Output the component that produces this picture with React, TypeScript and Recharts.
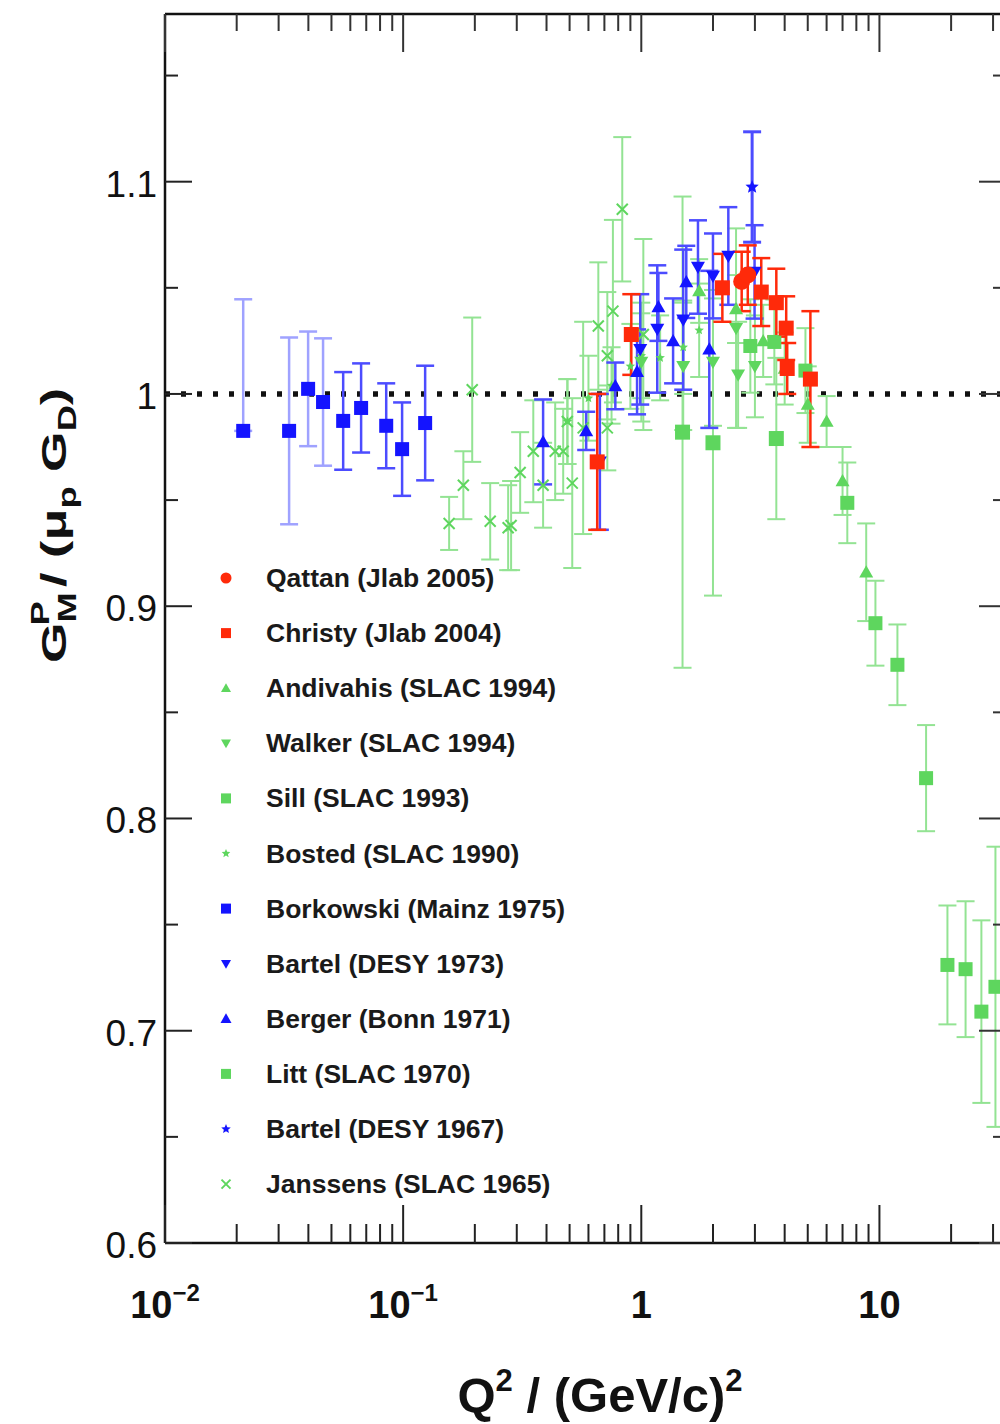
import React from 'react';
import { ScatterChart, Scatter, XAxis, YAxis, ErrorBar, ReferenceLine, Legend } from 'recharts';

// [Q2, GM/(mu_p GD), error]  (error may be [low, high])
type Row = [number, number, number | [number, number]];

const qattan: Row[] = [[2.64, 1.053, 0.014], [2.8, 1.056, 0.014]];
const christy: Row[] = [
  [0.653, 0.968, 0.032], [0.908, 1.028, 0.019], [2.19, 1.05, 0.016], [3.19, 1.048, 0.016],
  [3.69, 1.043, 0.016], [4.06, 1.031, 0.015], [4.1, 1.012, 0.012], [5.13, 1.007, 0.032],
];
const andivahis: Row[] = [
  [1.75, 1.0485, 0.015], [2.5, 1.04, 0.016], [3.25, 1.025, 0.017], [4.0, 1.012, 0.017],
  [5.0, 0.995, 0.018], [6.0, 0.987, 0.012], [7.0, 0.959, 0.016], [8.8, 0.916, 0.023],
];
const walker: Row[] = [
  [1.0, 1.015, 0.028], [1.5, 1.013, 0.03], [2.0, 1.015, 0.03], [2.5, 1.031, 0.047],
  [2.55, 1.009, 0.025], [3.0, 1.013, 0.024],
];
const sill: Row[] = [
  [2.87, 1.0226, 0.022], [3.62, 1.0245, 0.02], [4.89, 1.011, 0.02], [7.33, 0.9487, 0.019],
  [9.62, 0.892, 0.02], [11.9, 0.8724, 0.019], [15.7, 0.819, 0.025], [19.3, 0.731, 0.028],
  [23.0, 0.729, 0.032], [26.8, 0.709, 0.043], [30.7, 0.7207, 0.066],
];
const bosted: Row[] = [
  [0.49, 0.987, 0.02], [0.6, 0.998, 0.02], [0.75, 1.004, 0.018], [0.9, 1.013, 0.02],
  [1.0, 1.018, 0.02], [1.2, 1.017, 0.02], [1.5, 1.022, 0.022], [1.75, 1.03, 0.022],
];
// early Borkowski points have faint error bars in the original
const borkowskiFaint: Row[] = [
  [0.0213, 0.9826, [0, 0.062]], [0.0332, 0.9826, 0.044], [0.0399, 1.0024, 0.027],
  [0.0461, 0.9962, 0.03],
];
const borkowski: Row[] = [
  [0.056, 0.9873, 0.023], [0.0666, 0.9934, 0.021],
  [0.0849, 0.985, 0.02], [0.099, 0.974, 0.022], [0.1237, 0.9863, 0.027],
];
const bartel73: Row[] = [
  [0.67, 0.968, 0.032], [0.99, 1.021, 0.026], [1.167, 1.0306, 0.03], [1.5, 1.035, 0.033],
  [1.73, 1.0598, 0.022], [2.0, 1.0556, 0.02], [2.32, 1.065, 0.023], [2.99, 1.0575, 0.022],
];
const berger: Row[] = [
  [0.387, 0.9774, 0.02], [0.587, 0.9826, 0.009], [0.778, 1.0038, 0.011], [0.96, 1.0104, 0.02],
  [1.18, 1.041, 0.016], [1.36, 1.025, 0.02], [1.545, 1.0528, 0.017], [1.93, 1.021, 0.037],
];
const litt: Row[] = [[1.49, 0.982, 0.111], [2.0, 0.977, 0.072], [3.69, 0.979, 0.038]];
const bartel67: Row[] = [[2.92, 1.0975, 0.026]];
const janssens: Row[] = [
  [0.156, 0.939, 0.0125], [0.179, 0.957, 0.016], [0.195, 1.002, 0.034], [0.232, 0.94, 0.018],
  [0.276, 0.937, 0.02], [0.284, 0.938, 0.021], [0.31, 0.963, 0.019], [0.352, 0.973, 0.024],
  [0.387, 0.957, 0.02], [0.435, 0.973, 0.023], [0.47, 0.973, 0.02], [0.489, 0.987, 0.02],
  [0.513, 0.958, 0.04], [0.57, 0.984, 0.05], [0.66, 1.032, 0.03], [0.72, 1.018, 0.03],
  [0.72, 0.984, 0.02], [0.76, 1.039, 0.043], [0.832, 1.087, 0.034], [1.02, 1.028, 0.045],
];

const xTicks = [
  0.01, 0.02, 0.03, 0.04, 0.05, 0.06, 0.07, 0.08, 0.09,
  0.1, 0.2, 0.3, 0.4, 0.5, 0.6, 0.7, 0.8, 0.9,
  1, 2, 3, 4, 5, 6, 7, 8, 9,
  10, 20, 30,
];
const xLabels: Record<string, [string, string]> = {
  '0.01': ['10', '\u22122'], '0.1': ['10', '\u22121'], '1': ['1', ''], '10': ['10', ''],
};
const yTicks = [0.6, 0.65, 0.7, 0.75, 0.8, 0.85, 0.9, 0.95, 1, 1.05, 1.1, 1.15];
const yLabels: Record<string, string> = {
  '0.6': '0.6', '0.7': '0.7', '0.8': '0.8', '0.9': '0.9', '1': '1', '1.1': '1.1',
};

const RED = '#ff2a0a';
const BLUE = '#1414ff';
const GREEN = '#5ed65e';
const GREEN_BAR = '#93e393';
const BLUE_BAR = '#4c4cff';
const BLUE_FAINT = '#9fa2ff';
const FONT = '"Liberation Sans", Arial, Helvetica, sans-serif';

type Series = {
  name: string; rows: Row[]; kind: string; color: string; bar: string;
  size: number; legendSize: number; z: number; barWidth: number; legend?: boolean;
};

const series: Series[] = [
  { name: 'Qattan (Jlab 2005)', rows: qattan, kind: 'circle', color: RED, bar: RED, size: 17, legendSize: 11, z: 12, barWidth: 2.5 },
  { name: 'Christy (Jlab 2004)', rows: christy, kind: 'square', color: RED, bar: RED, size: 15, legendSize: 10, z: 11, barWidth: 2.5 },
  { name: 'Andivahis (SLAC 1994)', rows: andivahis, kind: 'up', color: GREEN, bar: GREEN_BAR, size: 14, legendSize: 10, z: 6, barWidth: 2 },
  { name: 'Walker (SLAC 1994)', rows: walker, kind: 'down', color: GREEN, bar: GREEN_BAR, size: 14, legendSize: 10, z: 5, barWidth: 2 },
  { name: 'Sill (SLAC 1993)', rows: sill, kind: 'square', color: GREEN, bar: GREEN_BAR, size: 14, legendSize: 10, z: 4, barWidth: 2 },
  { name: 'Bosted (SLAC 1990)', rows: bosted, kind: 'star', color: GREEN, bar: GREEN_BAR, size: 10, legendSize: 9, z: 2, barWidth: 2 },
  { name: 'Borkowski (Mainz 1975)', rows: borkowski, kind: 'square', color: BLUE, bar: BLUE_BAR, size: 14, legendSize: 10, z: 7.5, barWidth: 2.5 },
  { name: 'Borkowski faint', rows: borkowskiFaint, kind: 'square', color: BLUE, bar: BLUE_FAINT, size: 14, legendSize: 10, z: 7, barWidth: 2.5, legend: false },
  { name: 'Bartel (DESY 1973)', rows: bartel73, kind: 'down', color: BLUE, bar: BLUE_BAR, size: 14, legendSize: 10, z: 9, barWidth: 2.5 },
  { name: 'Berger (Bonn 1971)', rows: berger, kind: 'up', color: BLUE, bar: BLUE_BAR, size: 14, legendSize: 11, z: 8, barWidth: 2.5 },
  { name: 'Litt (SLAC 1970)', rows: litt, kind: 'square', color: GREEN, bar: GREEN_BAR, size: 15, legendSize: 10, z: 3, barWidth: 2 },
  { name: 'Bartel (DESY 1967)', rows: bartel67, kind: 'star', color: BLUE, bar: BLUE_BAR, size: 14, legendSize: 10, z: 10, barWidth: 3 },
  { name: 'Janssens (SLAC 1965)', rows: janssens, kind: 'x', color: GREEN, bar: GREEN_BAR, size: 11, legendSize: 9, z: 1, barWidth: 2 },
];

function drawMarker(kind: string, cx: number, cy: number, s: number, c: string) {
  const h = s / 2;
  switch (kind) {
    case 'circle':
      return <circle cx={cx} cy={cy} r={h} fill={c} />;
    case 'square':
      return <rect x={cx - h} y={cy - h} width={s} height={s} fill={c} />;
    case 'up':
      return <polygon points={`${cx},${cy - h} ${cx + h},${cy + h * 0.75} ${cx - h},${cy + h * 0.75}`} fill={c} />;
    case 'down':
      return <polygon points={`${cx},${cy + h} ${cx + h},${cy - h * 0.75} ${cx - h},${cy - h * 0.75}`} fill={c} />;
    case 'star': {
      const pts: string[] = [];
      for (let i = 0; i < 10; i++) {
        const r = i % 2 ? h * 0.45 : h;
        const a = -Math.PI / 2 + (i * Math.PI) / 5;
        pts.push(`${cx + r * Math.cos(a)},${cy + r * Math.sin(a)}`);
      }
      return <polygon points={pts.join(' ')} fill={c} />;
    }
    default:
      return (
        <g stroke={c} strokeWidth={2}>
          <line x1={cx - h} y1={cy - h} x2={cx + h} y2={cy + h} />
          <line x1={cx - h} y1={cy + h} x2={cx + h} y2={cy - h} />
        </g>
      );
  }
}

const isMajorX = (v: number) => xLabels[String(v)] !== undefined;
const isMajorY = (v: number) => yLabels[String(v)] !== undefined;

function BottomTick(p: any) {
  const v = p.payload.value;
  const lab = xLabels[String(v)];
  return (
    <g>
      <line x1={p.x} x2={p.x} y1={p.y} y2={p.y - (lab ? 38 : 19)} stroke="#222" strokeWidth={2} />
      {lab && (
        <text x={p.x} y={p.y + 75} textAnchor="middle" fontSize={38} fontWeight="bold" fontFamily={FONT} fill="#111">
          {lab[0]}
          {lab[1] && <tspan dy={-17} fontSize={24}>{lab[1]}</tspan>}
        </text>
      )}
    </g>
  );
}

function TopTick(p: any) {
  const major = isMajorX(p.payload.value);
  return <line x1={p.x} x2={p.x} y1={p.y} y2={p.y + (major ? 38 : 17)} stroke="#333" strokeWidth={2} />;
}

function LeftTick(p: any) {
  const v = p.payload.value;
  const lab = yLabels[String(v)];
  return (
    <g>
      <line x1={p.x} x2={p.x + (lab ? 27 : 13)} y1={p.y} y2={p.y} stroke="#222" strokeWidth={2} />
      {lab && (
        <text x={p.x - 8} y={p.y + 15} textAnchor="end" fontSize={37} fontFamily={FONT} fill="#111">
          {lab}
        </text>
      )}
    </g>
  );
}

function RightTick(p: any) {
  const major = isMajorY(p.payload.value);
  return <line x1={p.x} x2={p.x - (major ? 27 : 13)} y1={p.y} y2={p.y} stroke="#333" strokeWidth={2} />;
}

function renderLegend() {
  const items = series.filter((s) => s.legend !== false);
  return (
    <svg width={440} height={660}>
      {items.map((s, i) => (
        <g key={s.name} transform={`translate(0, ${i * 55.1})`}>
          {drawMarker(s.kind, 21, 18, s.legendSize, s.color)}
          <text x={61} y={27} fontSize={26.5} fontWeight="bold" fontFamily={FONT} fill="#1a1a1a">
            {s.name}
          </text>
        </g>
      ))}
    </svg>
  );
}

const AXIS = { stroke: '#111', strokeWidth: 2.5 };

export default function App() {
  const drawOrder = [...series].sort((a, b) => a.z - b.z);
  return (
    <div style={{ position: 'absolute', left: 0, top: 0, width: 1000, height: 1424, overflow: 'hidden', background: '#fff' }}>
      <ScatterChart width={1020} height={1424} margin={{ top: 13, right: 0, bottom: 0, left: 0 }}>
        <XAxis
          xAxisId="b" type="number" dataKey="x" scale="log" domain={[0.01, 34]} allowDataOverflow
          ticks={xTicks} interval={0} tick={BottomTick} tickLine={false} tickSize={0} tickMargin={0}
          axisLine={AXIS} height={181}
        />
        <XAxis
          xAxisId="t" orientation="top" type="number" dataKey="x" scale="log" domain={[0.01, 34]} allowDataOverflow
          ticks={xTicks} interval={0} tick={TopTick} tickLine={false} tickSize={0} tickMargin={0}
          axisLine={AXIS} height={1}
        />
        <YAxis
          yAxisId="l" type="number" dataKey="y" domain={[0.6, 1.179]} allowDataOverflow
          ticks={yTicks} interval={0} tick={LeftTick} tickLine={false} tickSize={0} tickMargin={0}
          axisLine={AXIS} width={165}
        />
        <YAxis
          yAxisId="r" orientation="right" type="number" dataKey="y" domain={[0.6, 1.179]} allowDataOverflow
          ticks={yTicks} interval={0} tick={RightTick} tickLine={false} tickSize={0} tickMargin={0}
          axisLine={AXIS} width={14}
        />
        <ReferenceLine
          xAxisId="b" yAxisId="l" y={1} stroke="#111" strokeWidth={5.5} strokeDasharray="5 11"
        />
        {/* invisible series so the mirrored top/right axes get a scale */}
        <Scatter
          xAxisId="t" yAxisId="r" data={sill.map(([x, y]) => ({ x, y }))}
          isAnimationActive={false} shape={() => <g />} legendType="none"
        />
        {drawOrder.map((s) => (
          <Scatter
            key={s.name}
            name={s.name}
            xAxisId="b"
            yAxisId="l"
            data={s.rows.map(([x, y, e]) => ({ x, y, e }))}
            isAnimationActive={false}
            shape={(p: any) => drawMarker(s.kind, p.cx, p.cy, s.size, s.color)}
          >
            <ErrorBar dataKey="e" direction="y" width={9} stroke={s.bar} strokeWidth={s.barWidth} isAnimationActive={false} />
          </Scatter>
        ))}
        <Legend
          layout="vertical" align="center" verticalAlign="middle"
          wrapperStyle={{ left: 205, top: 560, width: 440, height: 660 }}
          content={renderLegend}
        />
      </ScatterChart>
      <svg width={1000} height={1424} style={{ position: 'absolute', left: 0, top: 0, pointerEvents: 'none' }}>
        <text x={600} y={1412} textAnchor="middle" fontSize={49} fontWeight="bold" fontFamily={FONT} fill="#111">
          Q<tspan dy={-21} fontSize={31}>2</tspan>
          <tspan dy={21}> / (GeV/c)</tspan>
          <tspan dy={-21} fontSize={31}>2</tspan>
        </text>
        <g transform="translate(66, 663) rotate(-90) scale(1.45, 1)">
          <text x={0} y={0} fontSize={36} fontWeight="bold" fontFamily={FONT} fill="#111">
            G<tspan dy={10} fontSize={25}>M</tspan>
            <tspan dy={-27} dx={-23} fontSize={25}>P</tspan>
            <tspan dy={17}> / (</tspan>
            <tspan>{'\u03bc'}</tspan>
            <tspan dy={10} fontSize={25}>p</tspan>
            <tspan dy={-10}> G</tspan>
            <tspan dy={10} fontSize={25}>D</tspan>
            <tspan dy={-10}>)</tspan>
          </text>
        </g>
      </svg>
    </div>
  );
}
